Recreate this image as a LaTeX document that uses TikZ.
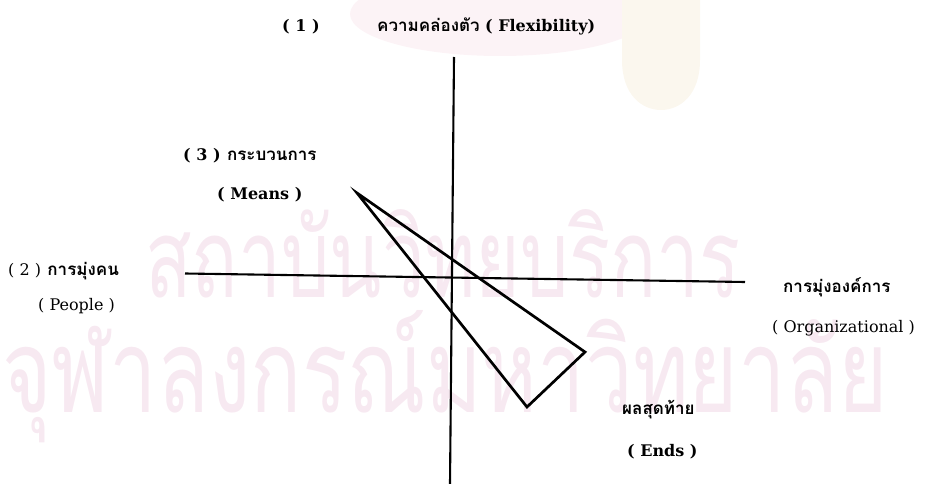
\documentclass[tikz,border=0pt]{standalone}
\usepackage{graphicx}
\usepackage{fontspec}
\setmainfont{DejaVu Serif}
\newfontfamily\thaifont[Script=Thai]{Loma}
\definecolor{wm}{RGB}{247,233,241}
\definecolor{logopink}{RGB}{252,243,246}
\definecolor{logogold}{RGB}{251,247,238}
\begin{document}
\begin{tikzpicture}[x=1pt,y=-1pt,
  axisline/.style={line width=2.1pt,black},
  triline/.style={line width=2.7pt,black,line join=miter},
  lbl/.style={anchor=west,inner sep=0pt,font=\fontsize{16}{18}\selectfont\bfseries},
  lblr/.style={anchor=west,inner sep=0pt,font=\fontsize{16}{18}\selectfont},
  thai/.style={anchor=west,inner sep=0pt,text height=12pt,text depth=3pt,font=\fontsize{17}{19}\selectfont\thaifont\bfseries},
  wmark/.style={anchor=base west,inner sep=0pt,text=wm}]
\useasboundingbox (0,0) rectangle (935,484);
% faint logo
\fill[logopink] (500,14) ellipse [x radius=150, y radius=42];
\fill[logogold] (622,0) -- (700,0) -- (700,60) .. controls (700,95) and (680,110) .. (661,110) .. controls (642,110) and (622,95) .. (622,60) -- cycle;
% watermark
\node[wmark] (wm1) at (145,297) {\resizebox{595pt}{88pt}{\thaifont สถาบันวิทยบริการ}};
\node[wmark] (wm2) at (2,412) {\resizebox{885pt}{102pt}{\thaifont จุฬาลงกรณ์มหาวิทยาลัย}};
% axes
\coordinate (vtop) at (454,57);
\coordinate (vbot) at (450,484);
\coordinate (hleft) at (185,273.5);
\coordinate (hright) at (745,282);
\draw[axisline] (vtop) -- (vbot);
\draw[axisline] (hleft) -- (hright);
% triangle
\coordinate (apex) at (357,193);
\coordinate (rv) at (585,352);
\coordinate (bv) at (527,407);
\draw[triline] (apex) -- (rv) -- (bv) -- cycle;
% labels
\node[lbl] (n1) at (282,27) {( 1 )};
\node[thai] (flexth) at (377,27) {ความคล่องตัว};
\node[lbl,anchor=west] (flexen) at ([xshift=5pt]flexth.east) {( Flexibility)};
\node[lbl] (n3) at (183,156) {( 3 )};
\node[thai] (means) at ([xshift=6pt]n3.east) {กระบวนการ};
\node[lbl] (meansen) at (217,195) {( Means )};
\node[lblr] (n2) at (8,271) {( 2 )};
\node[thai] (people) at ([xshift=6pt]n2.east) {การมุ่งคน};
\node[lblr] (peopleen) at (38,306) {( People )};
\node[thai] (org) at (783,288) {การมุ่งองค์การ};
\node[lblr] (orgen) at (772,328) {( Organizational )};
\node[thai] (ends) at (622,410) {ผลสุดท้าย};
\node[lbl] (endsen) at (627,452) {( Ends )};
\end{tikzpicture}
\end{document}
